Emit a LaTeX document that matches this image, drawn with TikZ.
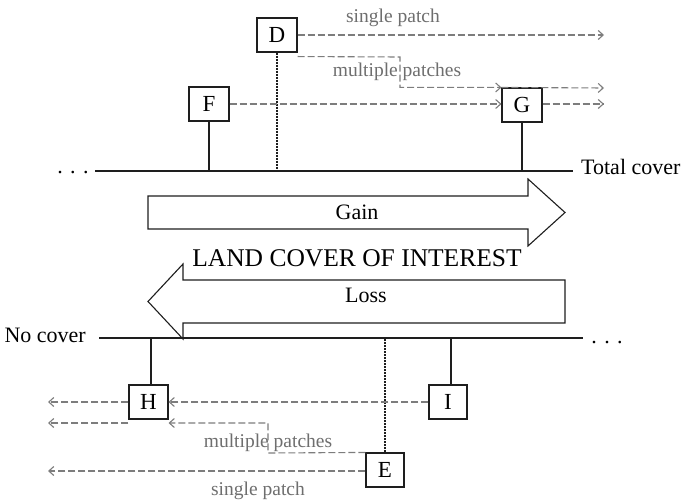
\documentclass[tikz,border=0pt]{standalone}
\usepackage{fontspec}
\setmainfont{Liberation Serif}
\usetikzlibrary{arrows.meta}
\definecolor{flow}{RGB}{125,125,125}
\definecolor{flowtext}{RGB}{110,110,110}
\definecolor{ink}{RGB}{30,30,30}

\begin{document}
\begin{tikzpicture}[x=1pt,y=-1pt,
  box/.style={draw=ink, line width=1.1pt, fill=white, minimum width=40pt,
    minimum height=34pt, inner sep=0pt, font=\fontsize{23}{26}\selectfont},
  axis/.style={line width=1.3pt, draw=ink},
  stem/.style={line width=1.3pt, draw=ink},
  patchstem/.style={line width=2pt, densely dotted, draw=ink},
  flowline/.style={draw=flow, line width=1.1pt, dash pattern=on 7pt off 3pt},
  flowarrow/.style={flowline, -{Straight Barb[length=5pt,width=9pt]}},
  bigarrow/.style={draw=ink, line width=1.1pt, fill=white},
  lbl/.style={font=\fontsize{22}{25}\selectfont, anchor=base, inner sep=0pt},
  title/.style={font=\fontsize{25.5}{30}\selectfont, anchor=base, inner sep=0pt},
  note/.style={text=flowtext, font=\fontsize{19.5}{22}\selectfont, anchor=base, inner sep=0pt}
]
\useasboundingbox (0,0) rectangle (685,502);

% ---------- upper axis: gain towards total cover ----------
\node[lbl] (dotsL) at (73,174) {. . .};
\node[lbl, anchor=base west] (total) at (581,175) {Total cover};
\coordinate (topL) at (95,171);
\coordinate (topR) at (573,171);
\draw[axis] (topL) -- (topR);

\node[box] (D) at (277,35) {D};
\node[box] (F) at (209,104) {F};
\node[box] (G) at (522,105) {G};

\draw[stem] (F.south) -- (F.south |- topL);
\draw[stem] (G.south) -- (G.south |- topL);
\draw[patchstem] (D.south) -- (D.south |- topL);

% single patch
\coordinate (dEnd) at (604,35);
\draw[flowarrow] (D.east) -- (dEnd);
\node[note] (singleTop) at (393,23) {single patch};

% multiple patches
\coordinate (mStart) at ([yshift=-4pt]D.south east);
\coordinate (mBend) at (400,57);
\coordinate (mEnd) at (604,88);
\draw[flowarrow] (mStart) -- (mBend) |- (G.north west);
\draw[flowarrow] (G.north west) -- (mEnd);
\node[note] (multiTop) at (397,77) {multiple patches};

% F grows into G
\coordinate (gEnd) at (604,104);
\draw[flowarrow] (F.east) -- (G.west |- F.east);
\draw[flowarrow] (G.east |- F.east) -- (gEnd);

% ---------- central arrows ----------
\draw[bigarrow] (148,196) -- (528,196) -- (528,179) -- (565,212.5)
  -- (528,246) -- (528,229) -- (148,229) -- cycle;
\node[lbl] (gain) at (357,220) {Gain};

\node[title] (landcover) at (357,267) {LAND COVER OF INTEREST};

\draw[bigarrow] (565,280) -- (183,280) -- (183,264) -- (148,301.5)
  -- (183,339) -- (183,323) -- (565,323) -- cycle;
\node[lbl] (loss) at (366,303) {Loss};

% ---------- lower axis: loss towards no cover ----------
\node[lbl, anchor=base east] (nocover) at (86,343) {No cover};
\node[lbl] (dotsR) at (607,344) {. . .};
\coordinate (botL) at (99,338);
\coordinate (botR) at (583,338);
\draw[axis] (botL) -- (botR);

\node[box, minimum width=39pt] (H) at (148.5,402) {H};
\node[box, minimum width=38pt] (I) at (448,402) {I};
\node[box, minimum width=38pt] (E) at (385,470) {E};

\draw[stem] (H.north -| 151,0) -- (151,338);
\draw[stem] (I.north -| 451,0) -- (451,338);
\draw[patchstem] (E.north) -- (E.north |- botL);

% I shrinks into H
\coordinate (hEnd) at (48,402);
\draw[flowarrow] (I.west) -- (H.east);
\draw[flowarrow] (H.west) -- (hEnd);

% multiple patches
\coordinate (eBend) at (268,453);
\coordinate (eRow) at (268,423);
\coordinate (hRowL) at (48,423);
\draw[flowarrow] (E.north west) -- (eBend) -- (eRow) -- (eRow -| H.east);
\draw[flowarrow] (eRow -| H.west) -- (hRowL);
\node[note] (multiBot) at (268,447) {multiple patches};

% single patch
\coordinate (eEnd) at (48,471);
\draw[flowarrow] (E.west |- eEnd) -- (eEnd);
\node[note] (singleBot) at (258,495) {single patch};

\end{tikzpicture}
\end{document}
